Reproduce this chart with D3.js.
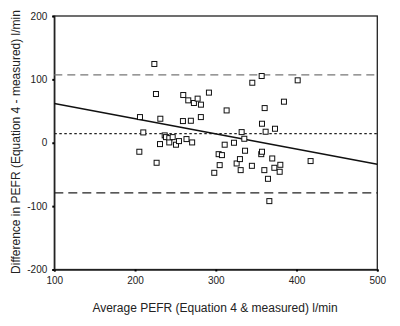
<!DOCTYPE html>
<html><head><meta charset="utf-8">
<script src="https://cdn.jsdelivr.net/npm/d3@7"></script>
<style>body{margin:0;background:#fff;}svg{display:block;}text{font-family:Arial,"Liberation Sans",sans-serif;}</style>
</head><body><div id="chart"></div>
<script>
const avgPEFR = [223.9,225.9,206.1,210.2,205.3,226.7,231.3,230.9,236.7,238.3,242.4,246.6,242.4,250.7,254.4,
  259.7,259.3,265.9,269.1,263.7,270.7,272.9,277.5,281.6,281.5,291.5,313.4,298.1,303.5,307.6,304.8,311.0,322.5,
  325.8,329.9,330.8,332.0,335.3,336.2,344.7,345.2,356.8,356.3,357.2,357.2,360.5,361.7,360.1,364.6,366.3,369.9,
  373.3,372.5,379.1,379.9,384.4,401.4,417.4];
const diffPEFR = [124.3,76.9,40.5,16.3,-14.2,-31.6,37.9,-2.1,11.6,8.9,7.3,8.9,0.5,-3.1,2.6,
  75.3,34.2,66.9,34.7,5.8,0.5,62.7,69.6,60.1,40.5,79.1,51.0,-47.4,-18.0,-19.5,-35.3,-3.1,0.0,
  -32.7,-25.8,-43.2,16.8,6.3,-12.6,-36.4,94.7,105.3,-18.0,-14.2,30.0,54.7,17.4,-43.2,-56.9,-92.1,-24.8,
  22.1,-39.5,-45.8,-34.8,64.8,98.5,-28.9];
const xTicks = [100,200,300,400,500];
const yTicks = [-200,-100,0,100,200];
const meanDiff = 14.5;
const upperLimit = 107;
const lowerLimit = -79;
const regX = [100,500];
const regY = [62,-34];

const W=400,H=326;
const svg=d3.select("#chart").append("svg").attr("width",W).attr("height",H);
const x=d3.scaleLinear().domain([100,500]).range([54.3,377.3]);
const y=d3.scaleLinear().domain([-200,200]).range([269.5,16]);

// frame
svg.append("rect").attr("x",x(100)).attr("y",y(200)).attr("width",x(500)-x(100)).attr("height",y(-200)-y(200))
  .attr("fill","none").attr("stroke","#222").attr("stroke-width",1.3);

// axes
const xa=svg.append("g").attr("transform",`translate(0,${y(-200)})`)
  .call(d3.axisBottom(x).tickValues(xTicks).tickSize(2).tickPadding(5).tickFormat(d3.format("d")));
const ya=svg.append("g").attr("transform",`translate(${x(100)},0)`)
  .call(d3.axisLeft(y).tickValues(yTicks).tickSize(2).tickPadding(5).tickFormat(d=>d<0?"-"+Math.abs(d):d));
[xa,ya].forEach(g=>{g.select(".domain").attr("stroke","#222").attr("stroke-width",1.3);
  g.selectAll(".tick line").attr("stroke","#000").attr("stroke-width",2);
  g.selectAll("text").attr("font-size",10).attr("fill","#222");});

// reference lines
svg.append("line").attr("x1",x(100)).attr("x2",x(500)).attr("y1",y(upperLimit)).attr("y2",y(upperLimit))
  .attr("stroke","#777").attr("stroke-width",1.2).attr("stroke-dasharray","8,5");
svg.append("line").attr("x1",x(100)).attr("x2",x(500)).attr("y1",y(lowerLimit)).attr("y2",y(lowerLimit))
  .attr("stroke","#222").attr("stroke-width",1.3).attr("stroke-dasharray","9,5");
svg.append("line").attr("x1",x(100)).attr("x2",x(500)).attr("y1",y(meanDiff)).attr("y2",y(meanDiff))
  .attr("stroke","#222").attr("stroke-width",1.2).attr("stroke-dasharray","2.5,2.5");
svg.append("line").attr("x1",x(regX[0])).attr("x2",x(regX[1])).attr("y1",y(regY[0])).attr("y2",y(regY[1]))
  .attr("stroke","#111").attr("stroke-width",1.4);

// points
svg.append("g").selectAll("rect").data(avgPEFR.map((d,i)=>[d,diffPEFR[i]])).join("rect")
  .attr("x",d=>x(d[0])-2.5).attr("y",d=>y(d[1])-2.5).attr("width",5).attr("height",5)
  .attr("fill","#fff").attr("stroke","#111").attr("stroke-width",1);

// labels
svg.append("text").attr("x",215).attr("y",312).attr("text-anchor","middle").attr("font-size",12).attr("fill","#222")
  .text("Average PEFR (Equation 4 & measured) l/min");
svg.append("text").attr("transform","translate(20,142) rotate(-90)").attr("text-anchor","middle").attr("font-size",12).attr("fill","#222")
  .text("Difference in PEFR (Equation 4 - measured) l/min");
</script></body></html>
